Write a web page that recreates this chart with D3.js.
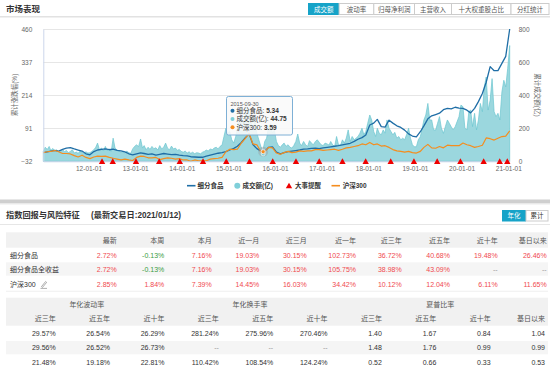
<!DOCTYPE html>
<html>
<head>
<meta charset="utf-8">
<title>市场表现</title>
<script src="https://cdn.jsdelivr.net/npm/d3@7/dist/d3.min.js"></script>
<style>
  body { margin: 0; background: #fff; }
  text { font-family: "Liberation Sans", "Noto Sans CJK SC", sans-serif; }
</style>
</head>
<body>
<div id="chart"></div>
<script>
// 细分食品 累计涨跌幅(%), one value per month (12th), 2011-01 .. 2021-01
var foodValues = [
  0, 3, 6, 9, 6, 12, 17, 19, 14, 10, 6, -4,
  -8, 4, 10, 12, 14, 11, 13, 9, 7, 3, -4, -8,
  -4, -1, -3, -6, -4, -9, -6, -3, -5, -7, -6, -9,
  -11, -12, -15, -16, -17, -17, -13, -9, -5, -2, 0, 4,
  10, 16, 24, 38, 55, 70, 30, 15, 6, 5, 20, 22,
  2, -4, 0, 4, 6, 8, 10, 13, 14, 16, 17, 15,
  18, 20, 22, 24, 26, 29, 32, 35, 42, 50, 56, 66,
  103, 110, 124, 97, 95, 121, 110, 100, 94, 84, 70, 62,
  59, 78, 100, 126, 137, 142, 147, 160, 165, 163, 169, 166,
  165, 158, 148, 165, 190, 220, 262, 320, 305, 305, 332, 358,
  460
];

// 沪深300 累计涨跌幅(%), same months
var hs300Values = [
  0, 3.5, 5, 8, 3.5, -3, -3, -4.6, -11, -16, -9.4, -17.5,
  -22, -16, -12.6, -14, -12.6, -17.5, -20.7, -24, -27, -24, -27, -29,
  -17.5, -12.6, -14, -19, -19, -17.5, -25.6, -22, -19, -20.7, -24, -22,
  -27, -27, -32, -27, -30, -30, -30, -24, -22, -20.7, -17.5, 3.5,
  13, 11.6, 13, 36, 52, 71.5, 32.6, 29.4, 4, 3, 19.7, 18,
  -1.3, -6, 0.3, 5, 0.3, 2, 6.8, 5, 6.8, 6.8, 11.6, 11.6,
  8.4, 10, 11.6, 13, 8.4, 13, 18, 19.7, 23, 26, 32.6, 29.4,
  38, 29.4, 32.6, 24.6, 26, 19.7, 11.6, 6.8, 5, 2, 5, 0.3,
  -1.3, 5, 19.7, 31, 18, 16.5, 23, 18, 27.8, 26, 26, 26,
  36, 29.4, 26, 19.7, 23, 27.8, 55, 52, 47, 53.7, 60, 61.8,
  81
];

// 成交额(亿), two values per month (12th and 27th)
var volumeValues = [
  60, 85, 72, 90, 65, 78, 62, 70, 55, 60, 72, 58, 66, 52, 60, 70, 50, 56, 48, 62, 55, 47, 58, 50,
  52, 60, 70, 85, 110, 70, 80, 62, 90, 65, 75, 60, 140, 80, 68, 62, 55, 58, 50, 62, 52, 48, 75, 90,
  100, 88, 135, 80, 95, 70, 85, 72, 90, 76, 82, 68, 95, 75, 85, 110, 78, 70, 92, 75, 80, 66, 72, 60,
  55, 62, 50, 58, 48, 55, 46, 52, 50, 45, 55, 60, 68, 62, 75, 70, 80, 85, 75, 90, 98, 150, 200, 170,
  180, 130, 110, 150, 200, 250, 270, 230, 290, 330, 300, 240, 190, 250, 170, 130, 90, 60, 120, 140, 210, 230, 170, 190,
  120, 95, 85, 100, 110, 90, 100, 85, 80, 95, 120, 165, 110, 95, 120, 100, 90, 125, 110, 100, 120, 130, 115, 100,
  95, 110, 105, 98, 120, 100, 90, 150, 100, 95, 130, 110, 140, 190, 120, 150, 130, 140, 150, 170, 200, 160, 180, 230,
  280, 250, 180, 150, 200, 170, 160, 190, 170, 250, 200, 180, 160, 175, 140, 150, 130, 140, 130, 160, 200, 140, 100, 88,
  88, 130, 149, 200, 250, 280, 350, 250, 250, 190, 189, 230, 270, 200, 169, 210, 250, 230, 209, 190, 209, 240, 270, 340,
  330, 200, 190, 300, 310, 210, 290, 190, 250, 350, 300, 450, 510, 310, 370, 500, 300, 270, 290, 250, 420, 490, 450, 560,
  700
];

// 大事提醒
var eventDates = ["2012-04-16", "2012-07-09", "2013-01-07", "2013-07-08", "2013-12-16", "2014-06-16",
  "2014-12-15", "2015-06-15", "2015-12-14", "2016-06-13", "2016-12-12", "2017-06-12", "2017-12-11",
  "2018-06-25", "2018-12-24", "2019-06-24", "2019-12-23", "2020-06-22", "2020-10-26", "2020-12-24"];

var xTickLabels = ["2012-01-01", "2013-01-01", "2014-01-01", "2015-01-01", "2016-01-01",
  "2017-01-01", "2018-01-01", "2019-01-01", "2020-01-01", "2021-01-01"];
var yTicksLeft = [-32, 91, 214, 337, 460];
var yTicksRight = [0, 200, 400, 600, 800];

var tabNames = ["成交额", "波动率", "归母净利润", "主营收入", "十大权重股占比", "分红统计"];
var legendNames = ["细分食品", "成交额(亿)", "大事提醒", "沪深300"];

var tooltipDate = "2015-09-30";
var tooltipNames = ["细分食品", "成交额(亿)", "沪深300"];
var tooltipValues = [5.34, 44.75, 3.59];

var returnCols = ["最新", "本周", "本月", "近一月", "近三月", "近一年", "近三年", "近五年", "近十年", "基日以来"];
var returnRowNames = ["细分食品", "细分食品全收益", "沪深300"];
var returnRows = [
  ["2.72%", "-0.13%", "7.16%", "19.03%", "30.15%", "102.73%", "36.72%", "40.68%", "19.48%", "26.46%"],
  ["2.72%", "-0.13%", "7.16%", "19.03%", "30.15%", "105.75%", "38.98%", "43.09%", "--", "--"],
  ["2.85%", "1.84%", "7.39%", "14.45%", "16.03%", "34.42%", "10.12%", "12.04%", "6.11%", "11.65%"]
];

var riskGroups = ["年化波动率", "年化换手率", "夏普比率"];
var riskGroupSpans = [3, 3, 4];
var riskCols = ["近三年", "近五年", "近十年", "近三年", "近五年", "近十年", "近三年", "近五年", "近十年", "基日以来"];
var riskRows = [
  ["29.57%", "26.54%", "26.29%", "281.24%", "275.96%", "270.46%", "1.40", "1.67", "0.84", "1.04"],
  ["29.56%", "26.52%", "26.73%", "--", "--", "--", "1.48", "1.76", "0.99", "0.99"],
  ["21.48%", "19.18%", "22.81%", "110.42%", "108.54%", "124.24%", "0.52", "0.66", "0.33", "0.53"]
];

var blue = "#1f6ea6", orange = "#f58d1e", teal = "#9bd7de", tealEdge = "#6cc5d0", red = "#ee0000";
var activeBg = "#16a3c8";

var parse = d3.timeParse("%Y-%m-%d");
var months = foodValues.map((v, i) => new Date(2011, i, 12));
var halfMonths = volumeValues.map((v, i) => new Date(2011, Math.floor(i / 2), i % 2 ? 27 : 12));

var svg = d3.select("#chart").append("svg")
    .attr("width", 550)
    .attr("height", 370);

// ---- header ----
svg.append("text")
    .attr("x", 6).attr("y", 12)
    .style("font-size", "8.5px").style("font-weight", "bold")
    .attr("fill", "#333")
    .text("市场表现");

var tabEdges = [308, 338.6, 373.3, 414, 451, 510.5, 548.5];
tabNames.forEach(function(t, i) {
    svg.append("rect")
        .attr("x", tabEdges[i] + 0.5).attr("y", 3.5)
        .attr("width", tabEdges[i + 1] - tabEdges[i]).attr("height", 11)
        .attr("fill", i == 0 ? activeBg : "#fff")
        .attr("stroke", i == 0 ? activeBg : "#ccc");
    svg.append("text")
        .attr("x", (tabEdges[i] + tabEdges[i + 1]) / 2 + 0.5).attr("y", 11.5)
        .attr("text-anchor", "middle")
        .style("font-size", "6.5px")
        .attr("fill", i == 0 ? "#fff" : "#555")
        .text(t);
});
svg.append("rect").attr("x", 0).attr("y", 16).attr("width", 550).attr("height", 1.5).attr("fill", "#e2e2e2");

// ---- chart ----
var plot = {left: 43.3, right: 509.7, top: 29, bottom: 161.3};

var x = d3.scaleTime()
    .domain([new Date(2011, 0, 12), new Date(2021, 0, 12)])
    .range([plot.left, plot.right]);
var yL = d3.scaleLinear().domain([-32, 460]).range([plot.bottom, plot.top]);
var yR = d3.scaleLinear().domain([0, 800]).range([plot.bottom, plot.top]);

svg.append("g").selectAll("line")
    .data(yTicksLeft)
    .enter().append("line")
    .attr("x1", plot.left).attr("x2", plot.right)
    .attr("y1", d => Math.round(yL(d)) + 0.5).attr("y2", d => Math.round(yL(d)) + 0.5)
    .attr("stroke", "#e6e6e6");

var area = d3.area()
    .x((d, i) => x(halfMonths[i]))
    .y0(yR(0))
    .y1(d => yR(d));
svg.append("path")
    .datum(volumeValues)
    .attr("d", area)
    .attr("fill", teal)
    .attr("stroke", tealEdge)
    .attr("stroke-width", 0.7);

var line = dates => d3.line().x((d, i) => x(dates[i])).y(d => yL(d));
svg.append("path")
    .datum(foodValues)
    .attr("d", line(months))
    .attr("fill", "none").attr("stroke", blue).attr("stroke-width", 1.3)
    .attr("stroke-linejoin", "round");
svg.append("path")
    .datum(hs300Values)
    .attr("d", line(months))
    .attr("fill", "none").attr("stroke", orange).attr("stroke-width", 1.2)
    .attr("stroke-linejoin", "round");

var yAxisL = svg.append("g")
    .attr("transform", "translate(" + plot.left + ",0)")
    .call(d3.axisLeft(yL).tickValues(yTicksLeft).tickSize(0).tickPadding(11));
yAxisL.select(".domain").attr("stroke", "#ccd6eb");
yAxisL.selectAll("text").style("font-size", "6.5px").attr("fill", "#666");

var yAxisR = svg.append("g")
    .attr("transform", "translate(" + plot.right + ",0)")
    .call(d3.axisRight(yR).tickValues(yTicksRight).tickSize(0).tickPadding(9));
yAxisR.select(".domain").remove();
yAxisR.selectAll("text").style("font-size", "6.5px").attr("fill", "#666");

var xAxis = svg.append("g")
    .attr("transform", "translate(0," + plot.bottom + ")")
    .call(d3.axisBottom(x).tickValues(xTickLabels.map(parse))
        .tickFormat(d3.timeFormat("%y-%m-%d")).tickSize(0).tickSizeOuter(0).tickPadding(5));
xAxis.select(".domain").attr("stroke", "#ccd6eb");
xAxis.selectAll("text").style("font-size", "6.5px").attr("fill", "#666");

svg.append("text")
    .attr("transform", "translate(17,95) rotate(-90)")
    .attr("text-anchor", "middle")
    .style("font-size", "6.5px").attr("fill", "#666")
    .text("累计涨跌幅(%)");
svg.append("text")
    .attr("transform", "translate(535,95) rotate(90)")
    .attr("text-anchor", "middle")
    .style("font-size", "6.5px").attr("fill", "#666")
    .text("累计成交额(亿)");

var tri = (cx, cy) => "M" + cx + "," + (cy - 3) + "L" + (cx + 3.2) + "," + (cy + 2.6) + "L" + (cx - 3.2) + "," + (cy + 2.6) + "Z";
svg.append("g").selectAll("path")
    .data(eventDates)
    .enter().append("path")
    .attr("d", d => tri(x(parse(d)), plot.bottom))
    .attr("fill", red);

// ---- tooltip ----
var tipX = x(parse(tooltipDate));
svg.append("circle").attr("cx", tipX).attr("cy", yL(tooltipValues[2])).attr("r", 5)
    .attr("fill", "#999").attr("fill-opacity", 0.4);
svg.append("circle").attr("cx", tipX).attr("cy", yR(tooltipValues[1])).attr("r", 2)
    .attr("fill", "#7fcfd9").attr("stroke", "#fff").attr("stroke-width", 0.6);
svg.append("circle").attr("cx", tipX).attr("cy", yL(tooltipValues[0])).attr("r", 2)
    .attr("fill", blue).attr("stroke", "#fff").attr("stroke-width", 0.6);
svg.append("circle").attr("cx", tipX).attr("cy", yL(tooltipValues[2])).attr("r", 2)
    .attr("fill", orange).attr("stroke", "#fff").attr("stroke-width", 0.6);

var tip = svg.append("g").attr("transform", "translate(226.5,96.5)");
tip.append("rect")
    .attr("width", 66).attr("height", 38.5).attr("rx", 2)
    .attr("fill", "#f9f9f9").attr("fill-opacity", 0.88)
    .attr("stroke", "#7eb0d6").attr("stroke-width", 1);
tip.append("text").attr("x", 4).attr("y", 9)
    .style("font-size", "5.5px").attr("fill", "#555").text(tooltipDate);
var tipColors = [blue, "#7fcfd9", orange];
tooltipNames.forEach(function(n, i) {
    var ty = 14.2 + i * 8.3;
    tip.append("circle").attr("cx", 6).attr("cy", ty).attr("r", 2).attr("fill", tipColors[i]);
    var t = tip.append("text").attr("x", 10).attr("y", ty + 2.3)
        .style("font-size", "6.5px").attr("fill", "#333");
    t.append("tspan").text(n + ": ");
    t.append("tspan").style("font-weight", "bold").text(tooltipValues[i].toFixed(2));
});

// ---- legend ----
var ly = 185.7;
var legend = svg.append("g").style("font-size", "6.5px").style("font-weight", "bold").attr("fill", "#333");
legend.append("line").attr("x1", 187).attr("x2", 195.5).attr("y1", ly).attr("y2", ly)
    .attr("stroke", blue).attr("stroke-width", 1.6);
legend.append("text").attr("x", 197.5).attr("y", ly + 2.4).text(legendNames[0]);
legend.append("circle").attr("cx", 237.3).attr("cy", ly).attr("r", 3).attr("fill", "#7fcfd9");
legend.append("text").attr("x", 242.5).attr("y", ly + 2.4).text(legendNames[1]);
legend.append("path").attr("d", tri(289, ly)).attr("fill", red);
legend.append("text").attr("x", 295).attr("y", ly + 2.4).text(legendNames[2]);
legend.append("line").attr("x1", 331.5).attr("x2", 340).attr("y1", ly).attr("y2", ly)
    .attr("stroke", orange).attr("stroke-width", 1.6);
legend.append("text").attr("x", 342.7).attr("y", ly + 2.4).text(legendNames[3]);

// ---- section 2 ----
svg.append("rect").attr("x", 0).attr("y", 199.5).attr("width", 550).attr("height", 4).attr("fill", "#cfcfcf");
svg.append("rect").attr("x", 0).attr("y", 203.5).attr("width", 550).attr("height", 1).attr("fill", "#ececec");

var title2 = svg.append("text").attr("x", 6).attr("y", 218)
    .style("font-size", "8.2px").style("font-weight", "bold").attr("fill", "#333");
title2.append("tspan").text("指数回报与风险特征");
title2.append("tspan").attr("x", 91).text("(最新交易日:2021/01/12)");

svg.append("rect").attr("x", 502).attr("y", 210).attr("width", 24).attr("height", 11.5).attr("fill", activeBg);
svg.append("text").attr("x", 514).attr("y", 218.2).attr("text-anchor", "middle")
    .style("font-size", "6.5px").attr("fill", "#fff").text("年化");
svg.append("rect").attr("x", 526).attr("y", 210.5).attr("width", 22).attr("height", 10.5)
    .attr("fill", "#fff").attr("stroke", "#ccc");
svg.append("text").attr("x", 537).attr("y", 218.2).attr("text-anchor", "middle")
    .style("font-size", "6.5px").attr("fill", "#333").text("累计");
svg.append("rect").attr("x", 0).attr("y", 224).attr("width", 550).attr("height", 1).attr("fill", "#e6e6e6");

// table 1: 回报
var retRight = [116.7, 164.3, 211.7, 259.3, 306.7, 356, 401.7, 450, 497.7, 546.7];
var t1 = svg.append("g").style("font-size", "7px");
t1.append("rect").attr("x", 6).attr("y", 232.3).attr("width", 542).attr("height", 15.4).attr("fill", "#f1f1f1");
t1.append("rect").attr("x", 6).attr("y", 262.3).attr("width", 542).attr("height", 13.4).attr("fill", "#f5f5f5");
[290.8].forEach(yy => t1.append("rect").attr("x", 6).attr("y", yy).attr("width", 542).attr("height", 0.8).attr("fill", "#ececec"));
returnCols.forEach(function(c, i) {
    t1.append("text").attr("x", retRight[i]).attr("y", 242.8).attr("text-anchor", "end")
        .attr("fill", "#555").text(c);
});
var rowY1 = [257.5, 271.5, 286.8];
returnRowNames.forEach(function(n, r) {
    t1.append("text").attr("x", 10).attr("y", rowY1[r]).attr("fill", "#333").text(n);
    returnRows[r].forEach(function(v, i) {
        var col = v == "--" ? "#999" : (v.charAt(0) == "-" ? "#3c9c42" : "#f04a4f");
        t1.append("text").attr("x", retRight[i]).attr("y", rowY1[r]).attr("text-anchor", "end")
            .attr("fill", col).text(v);
    });
});
// pencil icon after 沪深300
t1.append("path").attr("d", "M41.5,286.6 L45.6,281.5 L46.6,282.4 L42.5,287.4 Z M40.5,288.4 H47")
    .attr("fill", "none").attr("stroke", "#777").attr("stroke-width", 0.6);

// table 2: 风险
var colW = 54.37;
var riskRight = riskCols.map((c, i) => 55.7 + colW * i);
var t2 = svg.append("g").style("font-size", "7px");
t2.append("rect").attr("x", 6).attr("y", 297.7).attr("width", 542).attr("height", 28).attr("fill", "#f1f1f1");
t2.append("rect").attr("x", 6).attr("y", 341).attr("width", 542).attr("height", 13.3).attr("fill", "#f5f5f5");
var start = 0;
riskGroups.forEach(function(g, k) {
    var left = riskRight[start] - colW;
    var right = riskRight[start + riskGroupSpans[k] - 1];
    t2.append("text").attr("x", (left + right) / 2 + 4).attr("y", 306.5).attr("text-anchor", "middle")
        .attr("fill", "#555").text(g);
    start += riskGroupSpans[k];
});
riskCols.forEach(function(c, i) {
    t2.append("text").attr("x", riskRight[i]).attr("y", 321.2).attr("text-anchor", "end")
        .attr("fill", "#555").text(c);
});
var rowY2 = [335.8, 349.8, 365.2];
riskRows.forEach(function(row, r) {
    row.forEach(function(v, i) {
        t2.append("text").attr("x", riskRight[i]).attr("y", rowY2[r]).attr("text-anchor", "end")
            .attr("fill", v == "--" ? "#999" : "#333").text(v);
    });
});
</script>
</body>
</html>
